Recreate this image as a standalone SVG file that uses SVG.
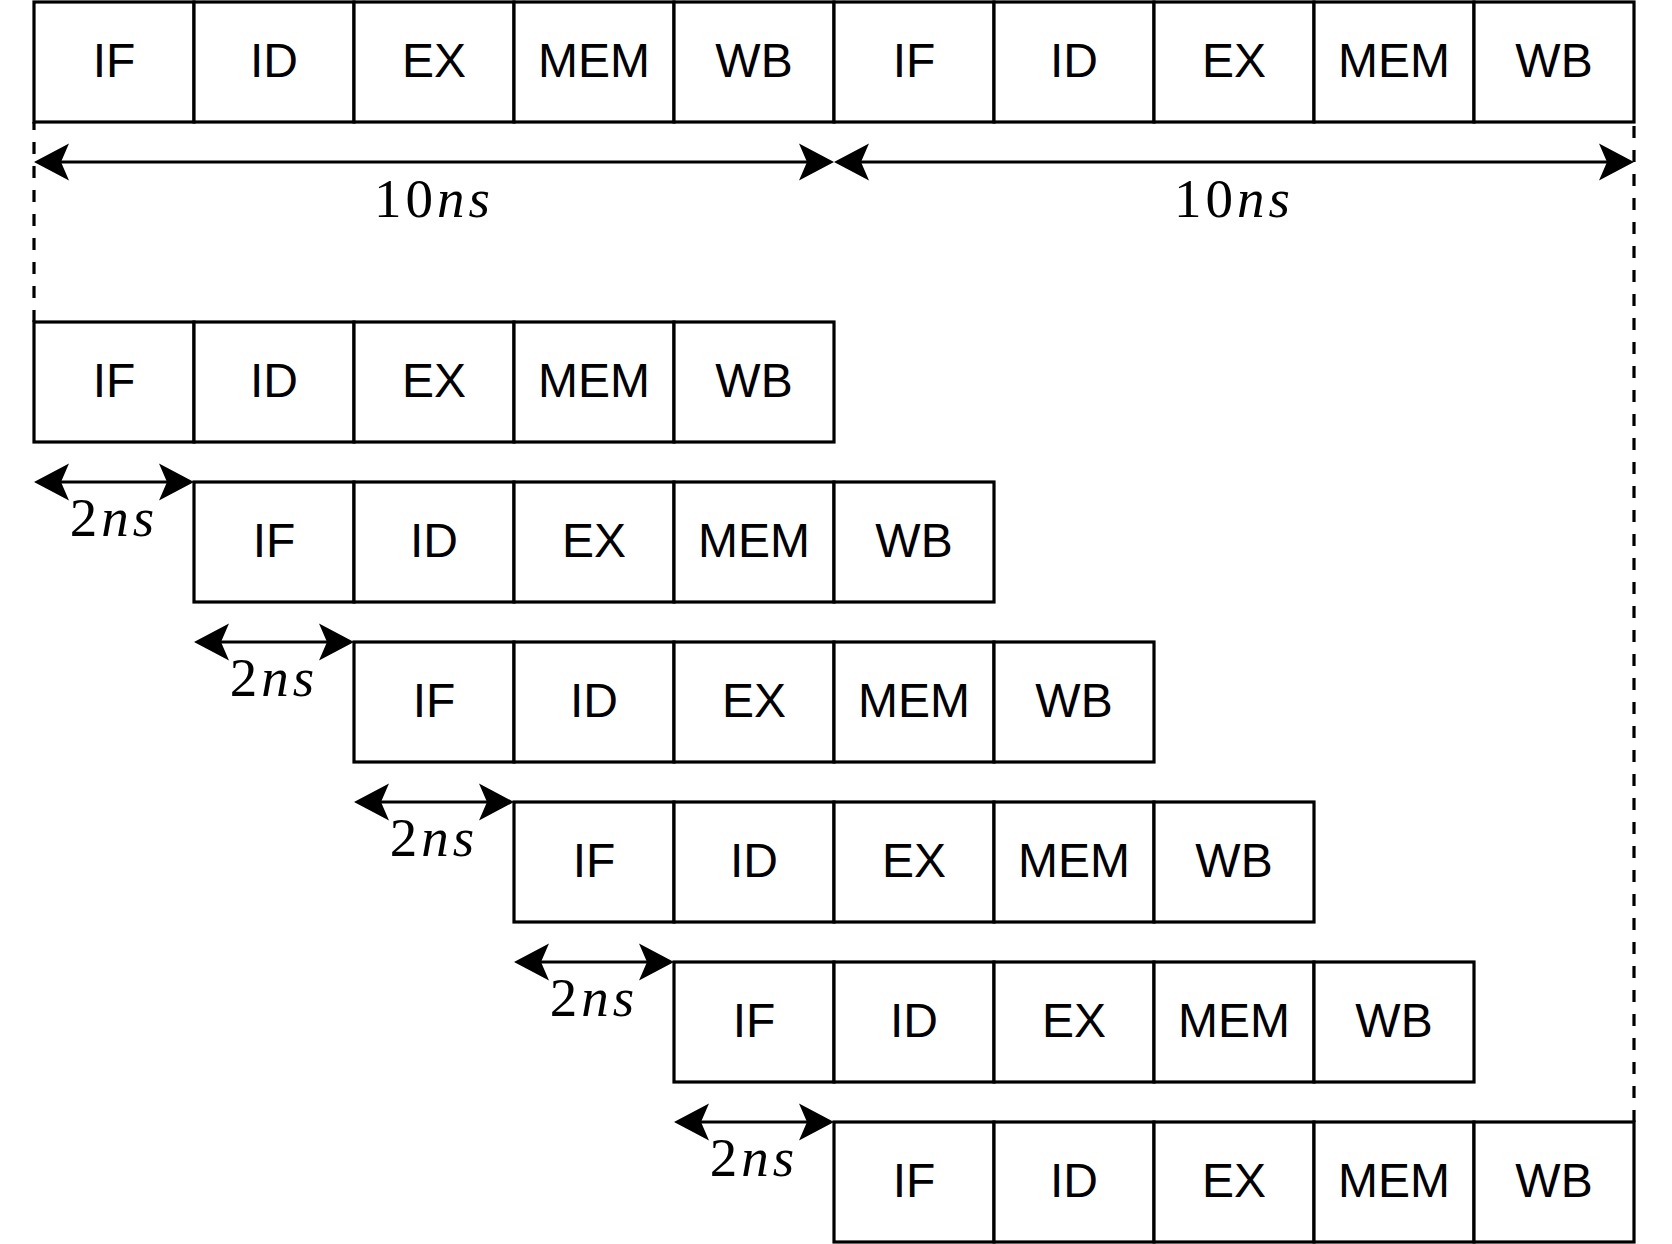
<svg xmlns="http://www.w3.org/2000/svg" width="1672" height="1244" viewBox="0 0 1672 1244">
<defs>
<style>
.cell rect{fill:#fff;stroke:#000;stroke-width:3.2}
.cell text{font-family:"Liberation Sans",Arial,Helvetica,sans-serif;font-size:48px;text-anchor:middle;fill:#000}
.conn{fill:none;stroke:#000;stroke-width:3.2}
.dash{fill:none;stroke:#000;stroke-width:3.2;stroke-dasharray:12 12}
.math{font-family:"Liberation Serif","Times New Roman",serif;font-size:55px;text-anchor:middle;fill:#000;letter-spacing:4px}
</style>
<marker id="ah" viewBox="-10 -20 40 40" refX="0" refY="0" markerWidth="40" markerHeight="40" markerUnits="userSpaceOnUse" orient="auto-start-reverse">
<path d="M-8,-18.5 L27,0 L-8,18.5 L0,0 Z" fill="#000"/>
</marker>
</defs>
<g id="connectors">
<path class="dash" d="M34,322 V122"/>
<path class="dash" d="M1634,1122 V122"/>
<path class="conn" d="M61,162 H807" marker-start="url(#ah)" marker-end="url(#ah)"/>
<path class="conn" d="M861,162 H1607" marker-start="url(#ah)" marker-end="url(#ah)"/>
<path class="conn" d="M61,482 H167" marker-start="url(#ah)" marker-end="url(#ah)"/>
<path class="conn" d="M221,642 H327" marker-start="url(#ah)" marker-end="url(#ah)"/>
<path class="conn" d="M381,802 H487" marker-start="url(#ah)" marker-end="url(#ah)"/>
<path class="conn" d="M541,962 H647" marker-start="url(#ah)" marker-end="url(#ah)"/>
<path class="conn" d="M701,1122 H807" marker-start="url(#ah)" marker-end="url(#ah)"/>
<text class="math" x="434" y="217">10<tspan font-style="italic">ns</tspan></text>
<text class="math" x="1234" y="217">10<tspan font-style="italic">ns</tspan></text>
<text class="math" x="114" y="536">2<tspan font-style="italic">ns</tspan></text>
<text class="math" x="274" y="696">2<tspan font-style="italic">ns</tspan></text>
<text class="math" x="434" y="856">2<tspan font-style="italic">ns</tspan></text>
<text class="math" x="594" y="1016">2<tspan font-style="italic">ns</tspan></text>
<text class="math" x="754" y="1176">2<tspan font-style="italic">ns</tspan></text>
</g>
<g id="r0">
<g class="cell" id="r0c0"><rect x="34" y="2" width="160" height="120"/><text x="114" y="77">IF</text></g>
<g class="cell" id="r0c1"><rect x="194" y="2" width="160" height="120"/><text x="274" y="77">ID</text></g>
<g class="cell" id="r0c2"><rect x="354" y="2" width="160" height="120"/><text x="434" y="77">EX</text></g>
<g class="cell" id="r0c3"><rect x="514" y="2" width="160" height="120"/><text x="594" y="77">MEM</text></g>
<g class="cell" id="r0c4"><rect x="674" y="2" width="160" height="120"/><text x="754" y="77">WB</text></g>
<g class="cell" id="r0c5"><rect x="834" y="2" width="160" height="120"/><text x="914" y="77">IF</text></g>
<g class="cell" id="r0c6"><rect x="994" y="2" width="160" height="120"/><text x="1074" y="77">ID</text></g>
<g class="cell" id="r0c7"><rect x="1154" y="2" width="160" height="120"/><text x="1234" y="77">EX</text></g>
<g class="cell" id="r0c8"><rect x="1314" y="2" width="160" height="120"/><text x="1394" y="77">MEM</text></g>
<g class="cell" id="r0c9"><rect x="1474" y="2" width="160" height="120"/><text x="1554" y="77">WB</text></g>
</g>
<g id="r1">
<g class="cell" id="r1c0"><rect x="34" y="322" width="160" height="120"/><text x="114" y="397">IF</text></g>
<g class="cell" id="r1c1"><rect x="194" y="322" width="160" height="120"/><text x="274" y="397">ID</text></g>
<g class="cell" id="r1c2"><rect x="354" y="322" width="160" height="120"/><text x="434" y="397">EX</text></g>
<g class="cell" id="r1c3"><rect x="514" y="322" width="160" height="120"/><text x="594" y="397">MEM</text></g>
<g class="cell" id="r1c4"><rect x="674" y="322" width="160" height="120"/><text x="754" y="397">WB</text></g>
</g>
<g id="r2">
<g class="cell" id="r2c0"><rect x="194" y="482" width="160" height="120"/><text x="274" y="557">IF</text></g>
<g class="cell" id="r2c1"><rect x="354" y="482" width="160" height="120"/><text x="434" y="557">ID</text></g>
<g class="cell" id="r2c2"><rect x="514" y="482" width="160" height="120"/><text x="594" y="557">EX</text></g>
<g class="cell" id="r2c3"><rect x="674" y="482" width="160" height="120"/><text x="754" y="557">MEM</text></g>
<g class="cell" id="r2c4"><rect x="834" y="482" width="160" height="120"/><text x="914" y="557">WB</text></g>
</g>
<g id="r3">
<g class="cell" id="r3c0"><rect x="354" y="642" width="160" height="120"/><text x="434" y="717">IF</text></g>
<g class="cell" id="r3c1"><rect x="514" y="642" width="160" height="120"/><text x="594" y="717">ID</text></g>
<g class="cell" id="r3c2"><rect x="674" y="642" width="160" height="120"/><text x="754" y="717">EX</text></g>
<g class="cell" id="r3c3"><rect x="834" y="642" width="160" height="120"/><text x="914" y="717">MEM</text></g>
<g class="cell" id="r3c4"><rect x="994" y="642" width="160" height="120"/><text x="1074" y="717">WB</text></g>
</g>
<g id="r4">
<g class="cell" id="r4c0"><rect x="514" y="802" width="160" height="120"/><text x="594" y="877">IF</text></g>
<g class="cell" id="r4c1"><rect x="674" y="802" width="160" height="120"/><text x="754" y="877">ID</text></g>
<g class="cell" id="r4c2"><rect x="834" y="802" width="160" height="120"/><text x="914" y="877">EX</text></g>
<g class="cell" id="r4c3"><rect x="994" y="802" width="160" height="120"/><text x="1074" y="877">MEM</text></g>
<g class="cell" id="r4c4"><rect x="1154" y="802" width="160" height="120"/><text x="1234" y="877">WB</text></g>
</g>
<g id="r5">
<g class="cell" id="r5c0"><rect x="674" y="962" width="160" height="120"/><text x="754" y="1037">IF</text></g>
<g class="cell" id="r5c1"><rect x="834" y="962" width="160" height="120"/><text x="914" y="1037">ID</text></g>
<g class="cell" id="r5c2"><rect x="994" y="962" width="160" height="120"/><text x="1074" y="1037">EX</text></g>
<g class="cell" id="r5c3"><rect x="1154" y="962" width="160" height="120"/><text x="1234" y="1037">MEM</text></g>
<g class="cell" id="r5c4"><rect x="1314" y="962" width="160" height="120"/><text x="1394" y="1037">WB</text></g>
</g>
<g id="r6">
<g class="cell" id="r6c0"><rect x="834" y="1122" width="160" height="120"/><text x="914" y="1197">IF</text></g>
<g class="cell" id="r6c1"><rect x="994" y="1122" width="160" height="120"/><text x="1074" y="1197">ID</text></g>
<g class="cell" id="r6c2"><rect x="1154" y="1122" width="160" height="120"/><text x="1234" y="1197">EX</text></g>
<g class="cell" id="r6c3"><rect x="1314" y="1122" width="160" height="120"/><text x="1394" y="1197">MEM</text></g>
<g class="cell" id="r6c4"><rect x="1474" y="1122" width="160" height="120"/><text x="1554" y="1197">WB</text></g>
</g>
</svg>
